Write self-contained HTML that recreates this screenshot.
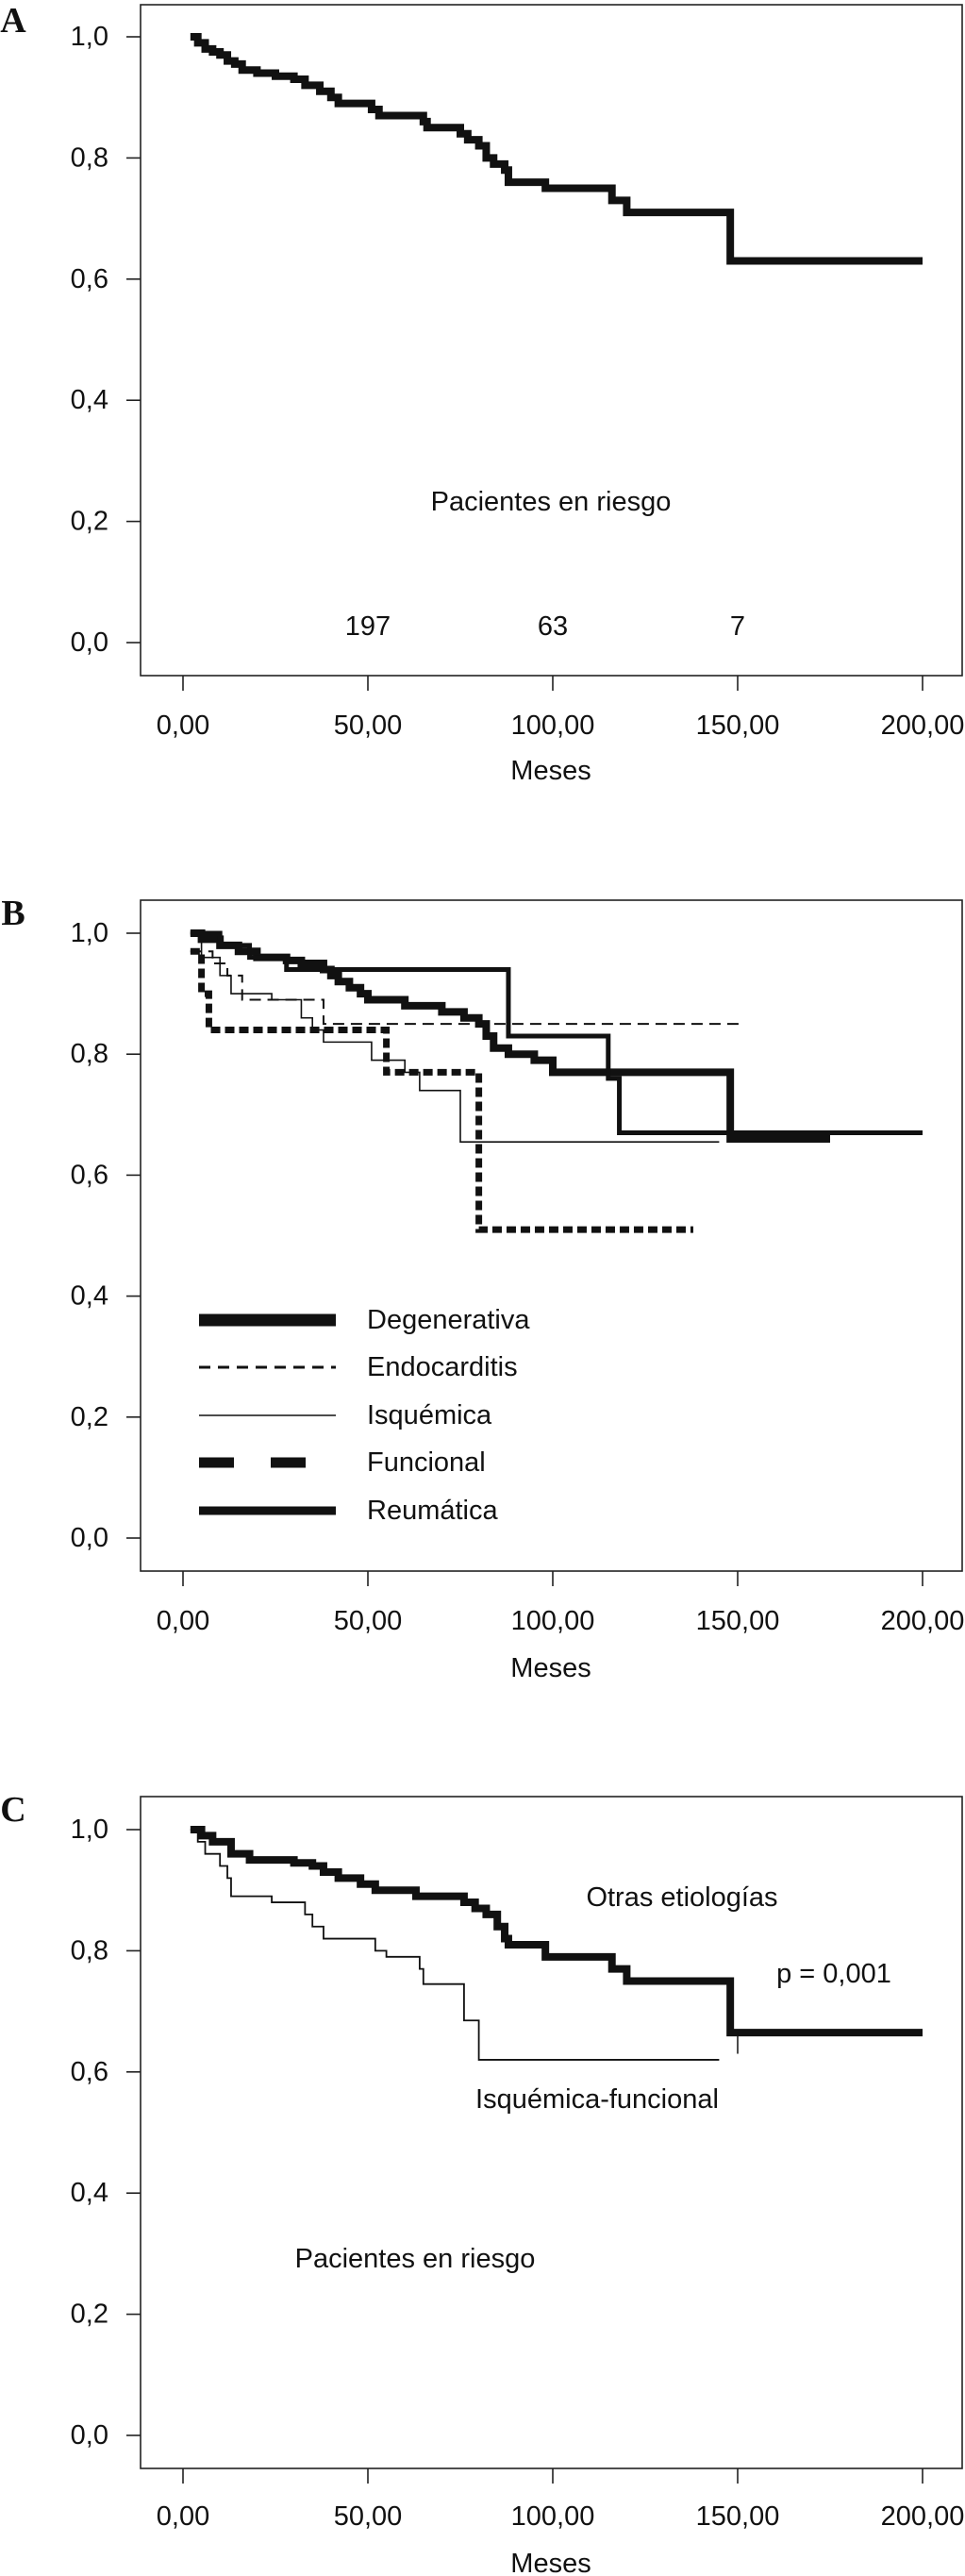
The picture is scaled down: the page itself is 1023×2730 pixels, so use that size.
<!DOCTYPE html>
<html><head><meta charset="utf-8"><style>
html,body{margin:0;padding:0;background:#fff;}
svg{display:block;}
text{font-family:"Liberation Sans",sans-serif;fill:#111;}
.t{font-size:29px;}
.p{font-family:"Liberation Serif",serif;font-weight:bold;font-size:38px;}
</style></head><body>
<svg id="fig" width="1023" height="2730" viewBox="0 0 1023 2730" xmlns="http://www.w3.org/2000/svg"></svg>
<script>
// ---- data ----
const xTicks=[0,50,100,150,200];
const xTickLabels=["0,00","50,00","100,00","150,00","200,00"];
const yTicks=[0,0.2,0.4,0.6,0.8,1.0];
const yTickLabels=["0,0","0,2","0,4","0,6","0,8","1,0"];
// Panel A
const aTimes=[2,4,6,8,10,12,14,16,20,25,30,33,37,40,42,51,53,65,66,75,77,80,82,84,87,88,98,116,120,148,200];
const aSurv=[1.0,0.99,0.98,0.975,0.97,0.96,0.955,0.945,0.94,0.935,0.93,0.92,0.91,0.90,0.89,0.88,0.87,0.86,0.85,0.84,0.83,0.82,0.80,0.79,0.78,0.76,0.75,0.73,0.71,0.63,0.63];
const riskTimes=[50,100,150];
const riskCounts=["197","63","7"];
// Panel B
const degTimes=[2,5,10,15,20,28,32,38,40,42,45,48,50,60,70,76,80,82,84,88,95,100,148,175];
const degSurv=[1.0,0.99,0.98,0.97,0.96,0.955,0.95,0.94,0.93,0.92,0.91,0.90,0.89,0.88,0.87,0.86,0.85,0.83,0.81,0.80,0.79,0.77,0.66,0.66];
const reuTimes=[2,10,18,28,88,115,118,200];
const reuSurv=[1.0,0.98,0.96,0.94,0.83,0.76,0.67,0.67];
const endTimes=[2,8,12,16,38,152];
const endSurv=[0.97,0.95,0.93,0.89,0.85,0.85];
const isqTimes=[2,5,10,13,24,32,35,38,51,60,64,75,145];
const isqSurv=[1.0,0.96,0.93,0.90,0.89,0.86,0.84,0.82,0.79,0.77,0.74,0.655,0.655];
const funTimes=[2,5,7,55,80,138];
const funSurv=[0.97,0.90,0.84,0.77,0.51,0.51];
const legendLabels=["Degenerativa","Endocarditis","Isquémica","Funcional","Reumática"];
// Panel C
const otTimes=[2,5,8,13,18,30,35,38,42,48,52,63,76,79,82,85,87,88,98,116,120,148,200];
const otSurv=[1.0,0.99,0.98,0.96,0.95,0.945,0.94,0.93,0.92,0.91,0.90,0.89,0.88,0.87,0.86,0.84,0.82,0.81,0.79,0.77,0.75,0.665,0.665];
const ifTimes=[2,4,6,10,12,13,24,33,35,38,52,55,64,65,76,80,145];
const ifSurv=[1.0,0.98,0.96,0.94,0.92,0.89,0.88,0.86,0.84,0.82,0.80,0.79,0.77,0.745,0.685,0.62,0.62];

const NS="http://www.w3.org/2000/svg";
const svg=document.getElementById('fig');
function mk(tag,attrs,parent){const e=document.createElementNS(NS,tag);for(const k in attrs)e.setAttribute(k,attrs[k]);(parent||svg).appendChild(e);return e;}
function txt(s,x,y,cls,anchor,parent){const e=mk('text',{x:x,y:y,class:cls,'text-anchor':anchor||'middle','dominant-baseline':'central'},parent);e.textContent=s;return e;}

function panel(cfg){
  const g=mk('g',{});
  
  
  const X=v=>194+(978-194)*v/200;
  const Y=v=>cfg.y0+(cfg.y1-cfg.y0)*v;
  const fr=mk('rect',{x:149,y:cfg.top,width:871,height:cfg.bottom-cfg.top,fill:'none',stroke:'#222','stroke-width':1.6},g);
  
  
  yTicks.forEach((v,i)=>{
    const l=mk('line',{x1:134,x2:149,y1:Y(v),y2:Y(v),stroke:'#222','stroke-width':1.6},g);
    
    
    const t=txt(yTickLabels[i],115,Y(v),'t','end',g);
    
    
  });
  xTicks.forEach((v,i)=>{
    const l=mk('line',{x1:X(v),x2:X(v),y1:cfg.bottom,y2:cfg.bottom+16,stroke:'#222','stroke-width':1.6},g);
    
    
    const t=txt(xTickLabels[i],X(v),cfg.xl,'t','middle',g);
    
    
  });
  const m=txt('Meses',584,cfg.xt,'t','middle',g);
  
  
  const p=txt(cfg.letter,14,cfg.ly,'p','middle',g);
  
  
  cfg.series.forEach(s=>{
    let d='M'+X(s.t[0])+','+Y(s.s[0]);
    for(let i=1;i<s.t.length;i++){d+=' H'+X(s.t[i])+' V'+Y(s.s[i]);}
    const path=mk('path',{d:d,fill:'none',stroke:'#111','stroke-width':s.w,'stroke-dasharray':s.dash||'none','stroke-linejoin':'miter'},g);
    
    
  });
  return {g,X,Y};
}

const A=panel({name:'panel-a-chart',letter:'A',top:5,bottom:716,y0:681,y1:39,xl:769,xt:817,ly:22,
  series:[{name:'survival-curve',t:aTimes,s:aSurv,w:8}]});
const pa=txt('Pacientes en riesgo',584,532,'t','middle',A.g);


riskTimes.forEach((v,i)=>{
  const t=txt(riskCounts[i],A.X(v),664,'t','middle',A.g);
  
  
});

const B=panel({name:'panel-b-chart',letter:'B',top:954,bottom:1665,y0:1630,y1:989,xl:1718,xt:1768,ly:968,
  series:[
    {name:'endocarditis-curve',t:endTimes,s:endSurv,w:2,dash:'12,7'},
    {name:'isquemica-curve',t:isqTimes,s:isqSurv,w:1.6},
    {name:'funcional-curve',t:funTimes,s:funSurv,w:7,dash:'10,5'},
    {name:'degenerativa-curve',t:degTimes,s:degSurv,w:8},
    {name:'reumatica-curve',t:reuTimes,s:reuSurv,w:5}
  ]});
const legStyles=[{w:13,d:'none'},{w:3,d:'12,8'},{w:1.6,d:'none'},{w:11,d:'37,39'},{w:9,d:'none'}];
const legY=[1399,1449,1500,1550,1601];
legendLabels.forEach((lab,i)=>{
  const g=mk('g',{},B.g);
  
  
  mk('line',{x1:211,x2:356,y1:legY[i],y2:legY[i],stroke:'#111','stroke-width':legStyles[i].w,'stroke-dasharray':legStyles[i].d},g);
  txt(lab,389,legY[i],'t','start',g);
});

const C=panel({name:'panel-c-chart',letter:'C',top:1904,bottom:2616,y0:2581,y1:1939,xl:2667,xt:2717,ly:1918,
  series:[
    {name:'isquemica-funcional-curve',t:ifTimes,s:ifSurv,w:1.8},
    {name:'otras-etiologias-curve',t:otTimes,s:otSurv,w:8}
  ]});
const cen=mk('line',{x1:C.X(150),x2:C.X(150),y1:C.Y(0.665),y2:C.Y(0.63),stroke:'#111','stroke-width':1.5},C.g);


[['Otras etiologías',723,2011,'otras-label'],['p = 0,001',884,2092,'p-value'],['Isquémica-funcional',633,2225,'isquemica-funcional-label'],['Pacientes en riesgo',440,2394,'risk-title']].forEach(a=>{
  const t=txt(a[0],a[1],a[2],'t','middle',C.g);
  
  
});
</script>
</body></html>
